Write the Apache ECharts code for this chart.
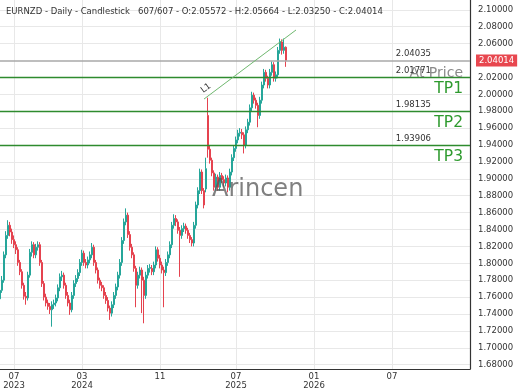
<!DOCTYPE html>
<html><head><meta charset="utf-8">
<script src="https://cdn.jsdelivr.net/npm/echarts@6/dist/echarts.min.js"></script>
<style>html,body{margin:0;padding:0;background:#fff}#c{width:520px;height:390px}</style>
</head><body><div id="c"></div>
<script>
const titleText = 'EURNZD - Daily - Candlestick   607/607 - O:2.05572 - H:2.05664 - L:2.03250 - C:2.04014';
const opens = [
1.758,1.768,1.780,1.810,1.833,1.845,1.837,1.828,1.822,1.816,
1.801,1.790,1.774,1.761,1.759,1.786,1.813,1.822,1.810,1.819,
1.822,1.801,1.776,1.760,1.753,1.749,1.745,1.751,1.753,1.759,
1.771,1.784,1.786,1.774,1.762,1.753,1.745,1.762,1.776,1.782,
1.789,1.801,1.812,1.801,1.798,1.804,1.810,1.819,1.801,1.792,
1.780,1.774,1.771,1.762,1.756,1.747,1.741,1.751,1.762,1.772,
1.786,1.801,1.827,1.849,1.857,1.834,1.819,1.810,1.794,1.774,
1.786,1.792,1.780,1.762,1.786,1.794,1.794,1.790,1.798,1.816,
1.806,1.798,1.792,1.789,1.801,1.810,1.822,1.845,1.853,1.849,
1.839,1.833,1.841,1.844,1.839,1.833,1.828,1.824,1.845,1.869,
1.886,1.908,1.886,1.888,1.975,1.935,1.922,1.907,1.890,1.902,
1.890,1.904,1.899,1.895,1.901,1.890,1.908,1.925,1.936,1.946,
1.954,1.955,1.952,1.940,1.958,1.967,1.984,1.999,1.993,1.987,
1.975,1.993,2.011,2.026,2.019,2.011,2.026,2.035,2.019,2.023,
2.052,2.062,2.052,2.05572];
const closes = [
1.768,1.780,1.810,1.833,1.845,1.837,1.828,1.822,1.816,1.801,
1.790,1.774,1.761,1.759,1.786,1.813,1.822,1.810,1.819,1.822,
1.801,1.776,1.760,1.753,1.749,1.745,1.751,1.753,1.759,1.771,
1.784,1.786,1.774,1.762,1.753,1.745,1.762,1.776,1.782,1.789,
1.801,1.812,1.801,1.798,1.804,1.810,1.819,1.801,1.792,1.780,
1.774,1.771,1.762,1.756,1.747,1.741,1.751,1.762,1.772,1.786,
1.801,1.827,1.849,1.857,1.834,1.819,1.810,1.794,1.774,1.786,
1.792,1.780,1.762,1.786,1.794,1.795,1.790,1.798,1.816,1.806,
1.798,1.792,1.789,1.801,1.810,1.822,1.845,1.853,1.849,1.839,
1.833,1.841,1.844,1.839,1.833,1.828,1.824,1.845,1.869,1.886,
1.908,1.886,1.869,1.912,1.935,1.922,1.907,1.890,1.902,1.890,
1.904,1.899,1.895,1.901,1.890,1.908,1.925,1.936,1.946,1.954,
1.955,1.952,1.940,1.958,1.967,1.984,1.999,1.993,1.987,1.975,
1.993,2.011,2.026,2.019,2.011,2.026,2.035,2.019,2.023,2.052,
2.062,2.052,2.0557,2.04014];
const highs = [
1.772,1.785,1.814,1.838,1.851,1.849,1.841,1.833,1.826,1.819,
1.804,1.793,1.777,1.766,1.790,1.817,1.826,1.825,1.823,1.826,
1.825,1.804,1.779,1.764,1.757,1.753,1.755,1.757,1.763,1.775,
1.788,1.791,1.789,1.777,1.766,1.757,1.766,1.780,1.786,1.793,
1.805,1.816,1.815,1.805,1.808,1.814,1.824,1.822,1.804,1.795,
1.783,1.778,1.774,1.766,1.760,1.750,1.755,1.766,1.776,1.790,
1.805,1.831,1.853,1.865,1.860,1.838,1.823,1.813,1.797,1.790,
1.796,1.795,1.784,1.790,1.798,1.799,1.798,1.802,1.820,1.819,
1.810,1.802,1.796,1.805,1.814,1.826,1.849,1.858,1.857,1.852,
1.843,1.845,1.848,1.847,1.842,1.836,1.831,1.849,1.873,1.890,
1.912,1.911,1.889,1.925,1.996,1.939,1.925,1.910,1.906,1.905,
1.908,1.907,1.903,1.905,1.904,1.912,1.929,1.940,1.950,1.958,
1.960,1.959,1.955,1.962,1.971,1.988,2.003,2.002,1.996,1.990,
1.997,2.015,2.030,2.029,2.022,2.030,2.039,2.038,2.027,2.056,
2.066,2.065,2.066,2.05664];
const lows = [
1.752,1.765,1.777,1.806,1.829,1.832,1.823,1.818,1.811,1.797,
1.786,1.770,1.757,1.751,1.756,1.783,1.808,1.806,1.806,1.815,
1.797,1.772,1.756,1.749,1.745,1.740,1.725,1.746,1.749,1.755,
1.767,1.779,1.770,1.758,1.749,1.739,1.742,1.758,1.772,1.778,
1.785,1.797,1.797,1.794,1.794,1.800,1.806,1.797,1.788,1.776,
1.770,1.767,1.758,1.752,1.743,1.733,1.737,1.747,1.758,1.768,
1.782,1.797,1.823,1.845,1.830,1.815,1.806,1.790,1.748,1.770,
1.782,1.741,1.729,1.758,1.782,1.789,1.786,1.786,1.794,1.802,
1.794,1.788,1.748,1.785,1.797,1.806,1.818,1.841,1.844,1.835,
1.784,1.829,1.837,1.835,1.829,1.824,1.820,1.820,1.841,1.865,
1.882,1.882,1.865,1.884,1.925,1.918,1.903,1.886,1.886,1.886,
1.886,1.895,1.890,1.891,1.884,1.886,1.904,1.921,1.932,1.942,
1.950,1.947,1.930,1.936,1.954,1.963,1.980,1.989,1.983,1.961,
1.971,1.989,2.007,2.015,2.007,2.007,2.022,2.015,2.015,2.019,
2.048,2.047,2.048,2.03250];
const futureBars = 92;
const tickIndex = [7, 41, 80, 118, 157, 196];
const tickLabels = ['07\n2023', '03\n2024', '11', '07\n2025', '01\n2026', '07'];
const yTickValues = [1.68,1.70,1.72,1.74,1.76,1.78,1.80,1.82,1.84,1.86,1.88,1.90,1.92,1.94,1.96,1.98,2.00,2.02,2.06,2.08,2.10];
const levelValues = [2.04035, 2.01771, 1.98135, 1.93906];
const levelNames = ['At Price', 'TP1', 'TP2', 'TP3'];
const lastPrice = 2.04014;
const trendLine = [[102, 1.9944], [148, 2.0761]];
const trendName = 'L1';
const watermark = 'Arincen';

const n = opens.length;
const categories = [];
for (let i = 0; i < n + futureBars; i++) categories.push(String(i));
const candles = opens.map((o, i) => [o, closes[i], lows[i], highs[i]]);

const FONT = 'DejaVu Sans';
const green = '#2e8b2e';
const HIDE = 'rgba(0,0,0,0)';
const mlData = [];
levelValues.forEach((v, i) => {
  const isPrice = i === 0;
  mlData.push({
    yAxis: v,
    lineStyle: { color: isPrice ? '#a8a8a8' : green, width: isPrice ? 1.6 : 1.3, type: 'solid' },
    label: { show: true, position: 'insideEndTop', distance: [39, 2], formatter: v.toFixed(5),
      color: '#333', fontSize: 8.5, fontFamily: FONT }
  });
  mlData.push({
    yAxis: v,
    lineStyle: { color: HIDE, width: 0 },
    label: { show: true, position: 'insideEndBottom', distance: [7, isPrice ? 6 : 4], formatter: levelNames[i],
      color: isPrice ? '#8a8a8a' : '#2e9a2e', fontSize: isPrice ? 14 : 15.5, fontFamily: FONT }
  });
});
mlData.push({
  yAxis: lastPrice,
  lineStyle: { color: HIDE, width: 0 },
  label: { show: true, position: 'end', distance: 6, formatter: lastPrice.toFixed(5),
    color: '#fff', backgroundColor: '#e8474f', padding: [2, 3, 1, 3], fontSize: 8.5, fontFamily: FONT }
});
mlData.push([
  { coord: [String(trendLine[0][0]), trendLine[0][1]],
    lineStyle: { color: '#6fb86f', width: 1, type: 'solid' },
    label: { show: true, position: 'insideStartTop', distance: 3, formatter: trendName, color: '#333', fontSize: 8.5, fontFamily: FONT } },
  { coord: [String(trendLine[1][0]), trendLine[1][1]] }
]);

const UP = '#26a69a', DOWN = '#e5434f';
const chart = echarts.init(document.getElementById('c'));
chart.setOption({
  animation: false,
  backgroundColor: '#fff',
  textStyle: { fontFamily: FONT },
  title: { text: titleText, left: 6, top: 7, padding: 0,
    textStyle: { fontSize: 8.5, fontWeight: 'normal', color: '#333', fontFamily: FONT } },
  grid: { left: 0, right: 50, top: 0, bottom: 21, containLabel: false },
  xAxis: {
    type: 'category', data: categories, boundaryGap: false,
    axisLine: { show: true, lineStyle: { color: '#333', width: 1.2 } },
    axisTick: { show: false },
    axisLabel: { interval: (i) => tickIndex.includes(i), formatter: (v, i) => tickLabels[tickIndex.indexOf(i)] || '',
      color: '#333', fontSize: 8.5, lineHeight: 9, margin: 3, fontFamily: FONT },
    splitLine: { show: true, interval: (i) => tickIndex.includes(i), lineStyle: { color: '#e8e8e8', width: 1 } }
  },
  yAxis: {
    type: 'value', position: 'right', min: 1.67491, max: 2.1116, scale: true,
    axisLine: { show: true, lineStyle: { color: '#333', width: 1.2 } },
    axisTick: { show: false, customValues: yTickValues },
    axisLabel: { customValues: yTickValues, formatter: (v) => v.toFixed(5), color: '#333', fontSize: 8.5, margin: 8, fontFamily: FONT },
    splitLine: { show: true, lineStyle: { color: '#e8e8e8', width: 1 } }
  },
  graphic: [{
    type: 'text', left: 212, top: 178, z: 100, silent: true,
    style: { text: watermark, fontSize: 24, fontFamily: FONT, fill: 'rgba(85,85,85,0.75)' }
  }],
  series: [{
    type: 'candlestick', data: candles, barWidth: 2, large: false,
    itemStyle: { color: UP, color0: DOWN, borderColor: UP, borderColor0: DOWN, borderColorDoji: UP, borderWidth: 1 },
    markLine: { silent: true, symbol: 'none', animation: false, data: mlData }
  }]
});
</script></body></html>
